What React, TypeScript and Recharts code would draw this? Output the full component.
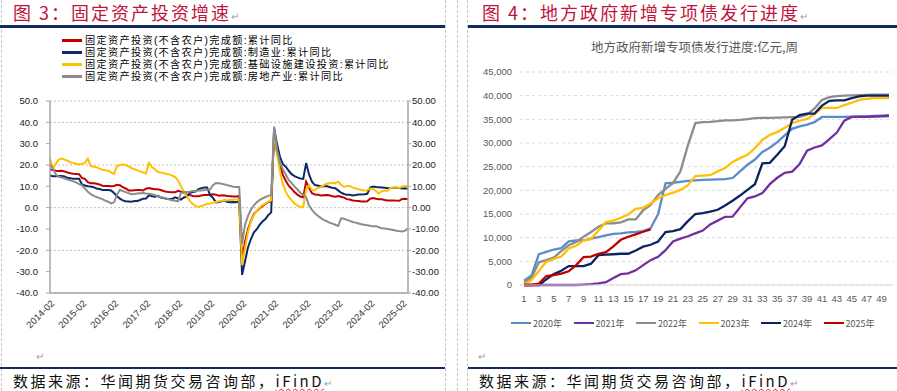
import { LineChart, Line, XAxis, YAxis, CartesianGrid } from 'recharts'

// ─── Figure 3: FAI cumulative YoY (%), Feb–Dec of each year ──────────────────

const faiYears = [2014, 2015, 2016, 2017, 2018, 2019, 2020, 2021, 2022, 2023, 2024, 2025]
const faiMonths = ['02', '03', '04', '05', '06', '07', '08', '09', '10', '11', '12']
const faiTicks = [50, 40, 30, 20, 10, 0, -10, -20, -30, -40]

const faiTotal = [
  17.9, 17.6, 17.3, 17.2, 17.3, 17.0, 16.5, 16.1, 15.9, 15.8, 15.7,
  13.9, 13.5, 12.0, 11.4, 11.4, 11.2, 10.9, 10.3, 10.2, 10.2, 10.0,
  10.2, 10.7, 10.5, 9.6, 9.0, 8.1, 8.1, 8.2, 8.3, 8.3, 8.1,
  8.9, 9.2, 8.9, 8.6, 8.6, 8.3, 7.8, 7.5, 7.3, 7.2, 7.2,
  7.9, 7.5, 7.0, 6.1, 6.0, 5.5, 5.3, 5.4, 5.7, 5.9, 5.9,
  6.1, 6.3, 6.1, 5.6, 5.8, 5.7, 5.5, 5.4, 5.2, 5.2, 5.4,
  -24.5, -16.1, -10.3, -6.3, -3.1, -1.6, -0.3, 0.8, 1.8, 2.6, 2.9,
  35.0, 25.6, 19.9, 15.4, 12.6, 10.3, 8.9, 7.3, 6.1, 5.2, 4.9,
  12.2, 9.3, 6.8, 6.2, 6.1, 5.7, 5.8, 5.9, 5.8, 5.3, 5.1,
  5.5, 5.1, 4.7, 4.0, 3.8, 3.4, 3.2, 3.1, 2.9, 2.9, 3.0,
  4.2, 4.5, 4.2, 4.0, 3.9, 3.6, 3.4, 3.4, 3.4, 3.3, 3.2,
  4.1, 4.2, 4.0,
]

const faiMfg = [
  15.1, 14.7, 14.7, 14.8, 14.8, 14.6, 14.0, 13.8, 13.5, 13.5, 13.5,
  10.9, 10.4, 10.0, 9.9, 9.6, 9.0, 8.8, 8.3, 8.3, 8.3, 8.1,
  6.9, 5.5, 4.2, 3.4, 3.0, 2.9, 2.8, 3.1, 3.1, 3.6, 4.2,
  4.3, 5.8, 5.3, 5.1, 5.5, 4.8, 4.5, 4.2, 4.1, 4.1, 4.8,
  4.3, 3.8, 4.8, 5.2, 6.8, 7.3, 7.5, 8.7, 9.1, 9.5, 9.5,
  5.9, 4.6, 2.5, 2.7, 3.0, 3.3, 2.6, 2.5, 2.6, 2.5, 3.1,
  -31.5, -25.2, -18.8, -14.8, -11.7, -10.2, -8.1, -6.5, -5.3, -3.5, -2.2,
  37.3, 29.8, 23.8, 20.4, 19.2, 17.3, 15.7, 14.8, 14.2, 13.7, 13.5,
  20.9, 15.6, 12.2, 10.6, 10.4, 9.9, 10.0, 10.1, 9.7, 9.3, 9.1,
  8.1, 7.0, 6.4, 6.0, 6.0, 5.7, 5.9, 6.2, 6.2, 6.3, 6.5,
  9.4, 9.9, 9.7, 9.6, 9.5, 9.3, 9.1, 9.2, 9.3, 9.3, 9.2,
  9.0, 9.1, 8.8,
]

const faiInfra = [
  23.0, 18.5, 20.5, 22.5, 23.0, 22.5, 22.0, 21.2, 21.0, 20.6, 20.3,
  20.5, 21.0, 23.0, 19.5, 19.2, 19.0, 18.3, 17.8, 17.5, 17.3, 16.5,
  15.8, 19.5, 20.0, 20.2, 20.0, 19.3, 18.5, 18.0, 17.5, 17.0, 16.5,
  16.0, 21.0, 19.0, 18.0, 16.8, 16.5, 16.2, 15.8, 15.6, 15.0, 14.3,
  12.8, 10.0, 7.5, 5.2, 3.2, 1.8, 0.8, 0.3, 0.8, 1.2, 1.8,
  2.0, 2.3, 2.7, 3.0, 3.2, 3.3, 3.5, 3.6, 3.7, 3.8, 3.8,
  -26.9, -19.0, -11.5, -6.5, -3.5, -1.5, 0.0, 1.2, 2.0, 2.8, 3.4,
  36.0, 25.0, 17.0, 11.0, 7.5, 5.0, 3.5, 2.0, 1.0, 0.4, 0.2,
  8.6, 10.5, 8.3, 8.2, 9.3, 9.6, 10.4, 11.2, 11.4, 11.6, 11.5,
  12.2, 10.8, 9.8, 10.1, 10.2, 9.4, 9.0, 8.6, 8.3, 8.0, 8.2,
  9.0, 8.8, 7.8, 6.7, 7.7, 8.0, 7.9, 9.3, 9.5, 9.6, 9.2,
  9.9, 10.2, 10.3,
]

const faiRealEstate = [
  20.3, 18.3, 15.5, 14.5, 14.1, 13.8, 13.2, 12.8, 12.3, 11.8, 11.0,
  10.5, 9.0, 7.5, 6.3, 5.5, 5.0, 4.5, 4.0, 3.3, 2.8, 2.0,
  2.5, 6.0, 8.4, 7.8, 7.3, 6.8, 6.3, 6.4, 6.6, 6.8, 6.9,
  6.6, 6.5, 6.3, 6.0, 5.3, 5.0, 4.7, 4.3, 3.8, 3.5, 3.2,
  3.0, 7.0, 7.3, 7.3, 7.5, 7.8, 7.8, 8.0, 8.1, 8.3, 8.4,
  8.5, 10.5, 11.6, 11.5, 11.2, 10.9, 10.5, 10.2, 9.8, 9.7, 9.7,
  -17.0, -8.0, -4.0, -1.0, 1.0, 2.5, 3.5, 4.3, 5.0, 5.5, 6.0,
  38.0, 27.0, 21.0, 18.0, 15.5, 13.0, 11.5, 10.0, 8.5, 7.0, 6.0,
  5.0, 1.0, -1.0, -2.6, -3.8, -4.8, -5.7, -6.3, -7.0, -7.5, -8.0,
  -8.6, -5.0, -5.2, -5.7, -6.2, -6.7, -7.0, -7.4, -7.8, -8.0, -8.2,
  -8.5, -8.8, -8.6, -9.2, -9.7, -9.8, -10.0, -10.2, -10.5, -10.8, -11.0,
  -11.2, -10.8, -9.7,
]

// both axes share the same range; the last series is plotted against the right one
const faiSeries = [
  { key: 'total', name: '固定资产投资(不含农户)完成额:累计同比', color: '#C00000', values: faiTotal, axis: 'left' },
  { key: 'mfg', name: '固定资产投资(不含农户)完成额:制造业:累计同比', color: '#0E2A66', values: faiMfg, axis: 'left' },
  { key: 'infra', name: '固定资产投资(不含农户)完成额:基础设施建设投资:累计同比', color: '#FFC000', values: faiInfra, axis: 'left' },
  { key: 'estate', name: '固定资产投资(不含农户)完成额:房地产业:累计同比', color: '#8C8C8C', values: faiRealEstate, axis: 'right' },
]

// ─── Figure 4: new special bond issuance, cumulative (亿元) by week ───────────

const weeks = Array.from({ length: 50 }, (_, i) => i + 1)
const bondTicks = [0, 5000, 10000, 15000, 20000, 25000, 30000, 35000, 40000, 45000]

const bond2020 = [
  900, 2000, 6500, 7000, 7500, 7800, 9200, 9400, 9400, 9800,
  10100, 10500, 10800, 10900, 11100, 11200, 11400, 12000, 15000, 21500,
  21600, 21800, 22000, 22100, 22200, 22250, 22300, 22350, 22600, 24000,
  25400, 26500, 28100, 29000, 30200, 31600, 33000, 33500, 33900, 34400,
  35500, 35500, 35500, 35500, 35550, 35550, 35600, 35700, 35800, 35900,
]
const bond2021 = [
  0, 0, 0, 0, 0, 0, 0, 0, 100, 200,
  350, 600, 1500, 2300, 2450, 3100, 4200, 5250, 5950, 7350,
  9200, 9800, 10300, 10900, 11500, 12800, 13600, 14400, 14450, 16400,
  18300, 18700, 19400, 21300, 22650, 23700, 23950, 25550, 28400, 29050,
  29500, 30800, 32200, 34700, 35500, 35550, 35550, 35600, 35650, 35700,
]
const bond2022 = [
  500, 1550, 4800, 5250, 5800, 7150, 8400, 9100, 10200, 11200,
  12300, 13000, 13050, 13250, 13850, 13850, 15800, 16900, 19000, 20300,
  21500, 24000, 29500, 34200, 34400, 34450, 34600, 34800, 34800, 34900,
  35050, 35250, 35300, 35300, 35350, 35400, 35450, 35500, 36000, 37300,
  39100, 39700, 39900, 40000, 40050, 40100, 40150, 40200, 40200, 40200,
]
const bond2023 = [
  200, 1000, 3000, 4900, 5500, 6000, 7700, 8300, 9400, 9700,
  11500, 13300, 13600, 14200, 14900, 16100, 16300, 17200, 18300, 19000,
  19500, 20100, 21100, 23000, 23100, 23200, 24000, 24700, 26000, 26800,
  27500, 28900, 30700, 31700, 32300, 33200, 34200, 34700, 35100, 36100,
  37400, 37400, 37400, 38000, 38500, 39100, 39350, 39500, 39500, 39500,
]
const bond2024 = [
  0, 0, 0, 1200, 2300, 3000, 4000, 4000, 4000, 4500,
  6300, 6400, 6500, 6600, 6600, 7300, 8100, 8500, 9200, 11200,
  11400, 11800, 13500, 15000, 15200, 15500, 15900, 16800, 17800, 18900,
  20100, 21300, 25700, 25800, 27500, 29300, 34900, 35900, 36200, 36200,
  37900, 38900, 39000, 39000, 39500, 39850, 40000, 40000, 40000, 40000,
]
const bond2025 = [
  0, 0, 300, 1900, 2100, 2400, 2900, 4200, 5900, 6000,
  6600, 6950, 8150, 9550, 10200, 10700, 11250, 11750,
]

const bondSeries = [
  { key: 'y2020', name: '2020年', color: '#5B8BC8', values: bond2020 },
  { key: 'y2021', name: '2021年', color: '#7030A0', values: bond2021 },
  { key: 'y2022', name: '2022年', color: '#8C8C8C', values: bond2022 },
  { key: 'y2023', name: '2023年', color: '#FFC000', values: bond2023 },
  { key: 'y2024', name: '2024年', color: '#0A2463', values: bond2024 },
  { key: 'y2025', name: '2025年', color: '#C00000', values: bond2025 },
]

// ─── Helpers ─────────────────────────────────────────────────────────────────

const CJK = '"Noto Sans CJK SC", "Noto Sans", sans-serif'
const NUM = '"Liberation Sans", Arial, sans-serif'
const NAVY = '#142B5E'

const faiDates = faiYears.flatMap((y) => faiMonths.map((m) => `${y}-${m}`)).slice(0, faiTotal.length)

const faiData = faiDates.map((date, i) => {
  const row: Record<string, string | number> = { date }
  faiSeries.forEach((s) => (row[s.key] = s.values[i]))
  return row
})

const bondData = weeks.map((week, i) => {
  const row: Record<string, number | null> = { week }
  bondSeries.forEach((s) => (row[s.key] = i < s.values.length ? s.values[i] : null))
  return row
})

function DateTick(props: any) {
  const { x, y, payload } = props
  const ax = x + 5
  const ay = y + 11
  return (
    <text
      x={ax}
      y={ay}
      transform={`rotate(-45 ${ax} ${ay})`}
      textAnchor="end"
      fontSize={9.5}
      fontFamily={NUM}
      fill="#333"
    >
      {payload.value}
    </text>
  )
}

function Dashed({ x }: { x: number }) {
  return (
    <div
      style={{ position: 'absolute', left: x, top: 0, width: 0, height: 391, borderLeft: '1px dashed #c4c4c4' }}
    />
  )
}

function Rule({ x, y, w }: { x: number; y: number; w: number }) {
  return <div style={{ position: 'absolute', left: x, top: y, width: w, height: 2.5, background: NAVY }} />
}

const mark = <span style={{ fontSize: 10, color: '#a0a0a0', letterSpacing: 0 }}>↵</span>

function Title({ x, text }: { x: number; text: string }) {
  return (
    <div
      style={{
        position: 'absolute', left: x, top: 3, fontSize: 18, lineHeight: '18px', letterSpacing: 2,
        color: '#C0143C', fontFamily: CJK, whiteSpace: 'nowrap',
      }}
    >
      {text}
      {mark}
    </div>
  )
}

function Source({ x }: { x: number }) {
  return (
    <div
      style={{
        position: 'absolute', left: x, top: 373, fontSize: 15, lineHeight: '15px', letterSpacing: 2.5,
        color: '#111', fontFamily: CJK, whiteSpace: 'nowrap',
      }}
    >
      数据来源：华闻期货交易咨询部，
      <span style={{ textDecoration: 'underline wavy #e02020', textDecorationThickness: 1 }}>iFinD</span>
      {mark}
    </div>
  )
}

// ─── Component ────────────────────────────────────────────────────────────────

export default function App() {
  return (
    <div style={{ position: 'absolute', left: 0, top: 0, width: 897, height: 391, background: '#fff', overflow: 'hidden' }}>
      <Dashed x={1} />
      <Dashed x={445} />
      <Dashed x={457} />
      <Dashed x={467} />

      <Title x={13} text="图 3：固定资产投资增速" />
      <Title x={482} text="图 4：地方政府新增专项债发行进度" />
      <Rule x={0} y={25} w={445} />
      <Rule x={468} y={25} w={429} />
      <Rule x={0} y={366.5} w={445} />
      <Rule x={468} y={366.5} w={429} />
      <div style={{ position: 'absolute', left: 36, top: 351, fontSize: 10, color: '#a0a0a0' }}>↵</div>
      <div style={{ position: 'absolute', left: 478, top: 351, fontSize: 10, color: '#a0a0a0' }}>↵</div>
      <Source x={13} />
      <Source x={479} />

      {/* Figure 3 */}
      <div style={{ position: 'absolute', left: 0, top: 0 }}>
        <LineChart width={447} height={345} data={faiData} margin={{ top: 101, right: 0, bottom: 0, left: 10 }}>
          <CartesianGrid yAxisId="left" vertical={false} stroke="#c0c0c0" strokeDasharray="2 2" />
          <XAxis
            dataKey="date"
            interval={10}
            height={52}
            tick={<DateTick />}
            tickSize={0}
            tickMargin={0}
            tickLine={false}
            axisLine={{ stroke: '#a6a6a6', strokeWidth: 1.5 }}
          />
          <YAxis
            yAxisId="left"
            width={40}
            domain={[-40, 50]}
            ticks={faiTicks}
            tickFormatter={(v: number) => v.toFixed(1)}
            tick={{ fontSize: 9.5, fill: '#222', fontFamily: NUM }}
            tickSize={4}
            tickMargin={8}
            tickLine={{ stroke: '#a6a6a6' }}
            axisLine={{ stroke: '#a6a6a6', strokeWidth: 1.5 }}
          />
          <YAxis
            yAxisId="right"
            orientation="right"
            width={39}
            domain={[-40, 50]}
            ticks={faiTicks}
            tickFormatter={(v: number) => v.toFixed(2)}
            tick={{ fontSize: 9.5, fill: '#222', fontFamily: NUM }}
            tickSize={3}
            tickMargin={1}
            tickLine={{ stroke: '#a6a6a6' }}
            axisLine={{ stroke: '#a6a6a6', strokeWidth: 1.5 }}
          />
          {faiSeries.map((s) => (
            <Line
              key={s.key}
              yAxisId={s.axis}
              dataKey={s.key}
              type="linear"
              stroke={s.color}
              strokeWidth={2}
              dot={false}
              activeDot={false}
              isAnimationActive={false}
            />
          ))}
        </LineChart>
      </div>
      <div
        style={{
          position: 'absolute', left: 62, top: 34.7, fontFamily: `"Liberation Sans", ${CJK}`, fontSize: 10.2,
          letterSpacing: 1.3, color: '#000',
        }}
      >
        {faiSeries.map((s) => (
          <div key={s.key} style={{ display: 'flex', alignItems: 'center', height: 12, whiteSpace: 'nowrap' }}>
            <span style={{ width: 20, height: 2.5, background: s.color, marginRight: 3 }} />
            <span style={{ lineHeight: '11px' }}>{s.name}</span>
          </div>
        ))}
      </div>

      {/* Figure 4 */}
      <div
        style={{
          position: 'absolute', left: 591, top: 39, width: 200, textAlign: 'center', fontSize: 12.5,
          lineHeight: '15px', color: '#595959', fontFamily: CJK, whiteSpace: 'nowrap',
        }}
      >
        地方政府新增专项债发行进度:亿元,周
      </div>
      <div style={{ position: 'absolute', left: 450, top: 0 }}>
        <LineChart width={447} height={315} data={bondData} margin={{ top: 72, right: 4, bottom: 0, left: 10 }}>
          <CartesianGrid vertical={false} stroke="#d9d9d9" strokeDasharray="3 3" />
          <XAxis
            dataKey="week"
            interval={1}
            height={30}
            padding={{ left: 4, right: 4 }}
            tick={{ fontSize: 9.5, fill: '#595959', fontFamily: NUM }}
            tickSize={0}
            tickMargin={10}
            tickLine={false}
            axisLine={{ stroke: '#d9d9d9' }}
          />
          <YAxis
            width={60}
            domain={[0, 45000]}
            ticks={bondTicks}
            tickFormatter={(v: number) => v.toLocaleString('en-US')}
            tick={{ fontSize: 9.5, fill: '#595959', fontFamily: NUM }}
            tickSize={0}
            tickMargin={8}
            tickLine={false}
            axisLine={false}
          />
          {bondSeries.map((s) => (
            <Line
              key={s.key}
              dataKey={s.key}
              type="linear"
              stroke={s.color}
              strokeWidth={2.3}
              dot={false}
              activeDot={false}
              isAnimationActive={false}
            />
          ))}
        </LineChart>
      </div>
      {bondSeries.map((s, i) => (
        <div
          key={s.key}
          style={{
            position: 'absolute', left: 511 + i * 62.5, top: 317, height: 12, display: 'flex', alignItems: 'center',
            fontFamily: CJK, fontSize: 9, color: '#595959', whiteSpace: 'nowrap',
          }}
        >
          <span style={{ width: 20, height: 2.5, background: s.color, marginRight: 2 }} />
          <span>{s.name}</span>
        </div>
      ))}
    </div>
  )
}
